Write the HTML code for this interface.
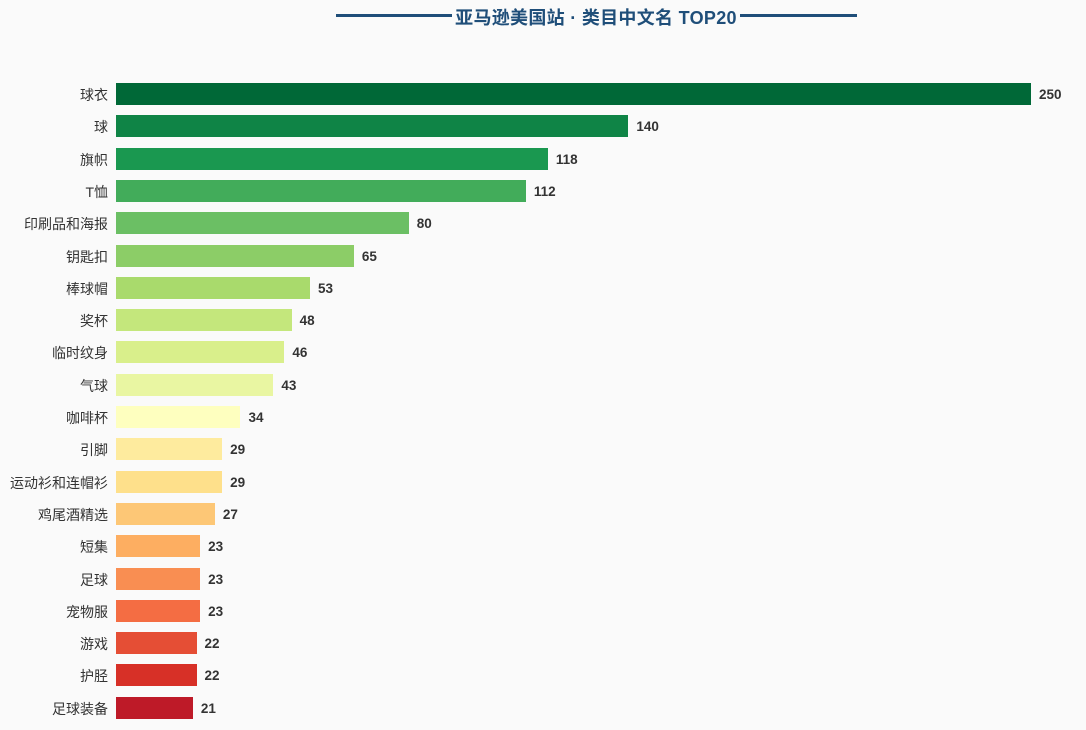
<!DOCTYPE html>
<html><head><meta charset="utf-8"><style>
body{margin:0;width:1086px;height:730px;background:#fafafa;position:relative;overflow:hidden;font-family:"Liberation Sans","Noto Sans CJK SC",sans-serif}
.t{position:absolute;top:4px;left:452px;width:288px;text-align:center;font-size:18px;font-weight:bold;color:#1f4e79;white-space:nowrap;letter-spacing:0.3px}
.ln{position:absolute;top:14px;height:3px;background:#1f4e79}
.l{position:absolute;right:978px;font-size:14px;color:#333;text-align:right;white-space:nowrap;line-height:24px}
.b{position:absolute;left:116px;height:22px}
.v{position:absolute;font-size:13.5px;font-weight:bold;color:#333;line-height:24px}
</style></head><body>
<div class="ln" style="left:336px;width:116px"></div>
<div class="ln" style="left:740px;width:117px"></div>
<div class="t">亚马逊美国站 · 类目中文名 TOP20</div>
<div id="c"></div>
<script>
var d=[["球衣",250,"#006837"],["球",140,"#0f8446"],["旗帜",118,"#1a9850"],["T恤",112,"#42ac5a"],["印刷品和海报",80,"#6bbf64"],["钥匙扣",65,"#8ccd67"],["棒球帽",53,"#a9da6c"],["奖杯",48,"#c4e77c"],["临时纹身",46,"#d9ef8b"],["气球",43,"#e9f6a2"],["咖啡杯",34,"#feffbf"],["引脚",29,"#feeb9e"],["运动衫和连帽衫",29,"#fee08b"],["鸡尾酒精选",27,"#fdc776"],["短集",23,"#fdae61"],["足球",23,"#f98e52"],["宠物服",23,"#f46d43"],["游戏",22,"#e54e35"],["护胫",22,"#d73027"],["足球装备",21,"#be1a28"]];
var h="";
d.forEach(function(r,i){var y=83+i*32.3,w=r[1]*3.66;
h+='<div class="l" style="top:'+y+'px">'+r[0]+'</div><div class="b" style="top:'+y+'px;width:'+w+'px;background:'+r[2]+'"></div><div class="v" style="top:'+y+'px;left:'+(116+w+8)+'px">'+r[1]+'</div>';});
document.getElementById("c").innerHTML=h;
</script>
</body></html>
